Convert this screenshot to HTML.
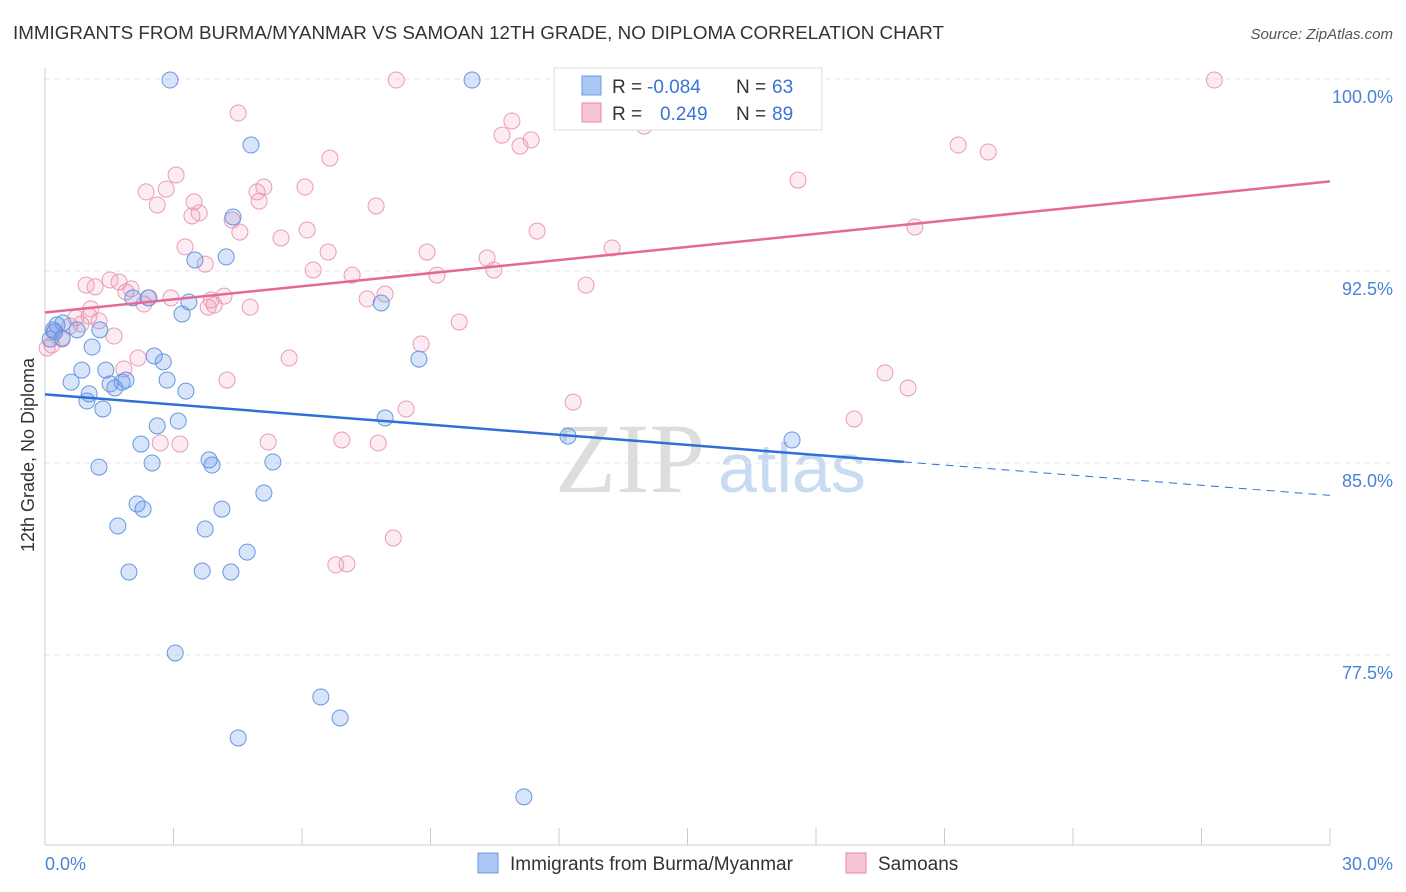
<!DOCTYPE html>
<html><head><meta charset="utf-8"><style>
body{margin:0;background:#fff;font-family:"Liberation Sans",sans-serif;}
svg{display:block}
</style></head><body>
<svg id="chart" width="1406" height="892">
<text x="13" y="39" font-size="18" fill="#333" textLength="931" lengthAdjust="spacingAndGlyphs">IMMIGRANTS FROM BURMA/MYANMAR VS SAMOAN 12TH GRADE, NO DIPLOMA CORRELATION CHART</text>
<text x="1393" y="39" font-size="15" fill="#555" font-style="italic" text-anchor="end">Source: ZipAtlas.com</text>
<text x="34" y="455" font-size="18" fill="#333" text-anchor="middle" transform="rotate(-90 34 455)">12th Grade, No Diploma</text>
<text x="555" y="492" font-size="100" fill="#ddd" font-family="Liberation Serif">ZIP</text>
<text x="718" y="492" font-size="70" fill="#c9daf3">atlas</text>
<g id="grid"></g><g id="pts"></g><g id="lines"></g>
<g>
<rect x="554" y="68" width="268" height="62" fill="#fff" stroke="#ddd"/>
<rect x="582" y="76" width="19" height="19" fill="#a9c7f2" stroke="#6a9be0"/>
<text y="93" font-size="19" fill="#333"><tspan x="612">R =</tspan><tspan x="647" fill="#3a74d6">-0.084</tspan><tspan x="736">N =</tspan><tspan x="772" fill="#3a74d6">63</tspan></text>
<rect x="582" y="103" width="19" height="19" fill="#f7c4d4" stroke="#e88aa8"/>
<text y="120" font-size="19" fill="#333"><tspan x="612">R =</tspan><tspan x="660" fill="#3a74d6">0.249</tspan><tspan x="736">N =</tspan><tspan x="772" fill="#3a74d6">89</tspan></text>
</g>
<g>
<rect x="478" y="853" width="20" height="20" fill="#a9c7f2" stroke="#6a9be0"/>
<text x="510" y="870" font-size="19" fill="#333">Immigrants from Burma/Myanmar</text>
<rect x="846" y="853" width="20" height="20" fill="#f7c4d4" stroke="#e88aa8"/>
<text x="878" y="870" font-size="19" fill="#333">Samoans</text>
</g>
</svg>
<script>
const yTicks=[100,92.5,85,77.5];
const xTickLabels=["0.0%","30.0%"];
const burmaX=[2.92,9.97,4.81,4.39,4.23,3.50,3.36,3.20,7.85,1.10,2.05,2.41,0.12,0.28,0.42,0.75,0.23,0.61,0.86,0.98,1.03,1.35,1.52,1.42,1.63,1.80,1.89,2.55,2.76,2.85,3.29,3.11,2.24,2.62,2.50,1.26,3.83,3.90,5.32,8.73,7.94,12.21,17.44,2.15,2.29,5.11,4.13,1.70,3.74,4.72,1.96,3.67,4.34,3.04,6.44,6.89,4.51,11.18,0.40,0.19,1.28];
const burmaY=[99.96,99.96,97.42,94.61,93.05,92.93,91.29,90.82,91.25,89.53,91.45,91.45,89.84,90.39,90.47,90.20,90.12,88.16,88.63,87.42,87.70,87.11,88.09,88.63,87.93,88.16,88.24,89.18,88.95,88.24,87.81,86.64,85.74,86.45,85.00,84.84,85.12,84.92,85.04,89.06,86.76,86.05,85.90,83.40,83.20,83.83,83.20,82.54,82.42,81.52,80.74,80.78,80.74,77.58,75.86,75.04,74.26,71.96,89.88,90.20,90.20];
const samX=[8.20,14.94,27.30,4.51,10.90,10.67,11.09,11.35,13.99,21.32,22.02,6.65,3.06,2.36,2.83,2.62,5.11,4.95,5.00,6.07,7.73,3.48,3.43,3.60,4.37,4.55,3.27,5.51,6.12,6.61,6.26,3.74,7.17,8.92,9.15,10.32,10.48,11.49,13.24,12.63,17.58,20.31,1.52,0.96,1.17,1.73,1.89,2.01,2.43,2.94,2.31,3.88,4.18,3.95,3.81,4.79,7.52,7.94,9.67,8.78,1.26,0.72,0.84,0.21,0.40,0.05,1.61,1.07,2.17,1.84,5.70,4.25,8.43,12.33,19.61,20.15,18.89,3.15,2.69,5.21,6.93,7.78,8.13,7.05,6.79,1.03,0.58,0.16];
const samY=[99.96,99.96,99.96,98.67,98.36,97.81,97.38,97.62,98.16,97.42,97.15,96.91,96.25,95.59,95.70,95.08,95.78,95.59,95.23,95.78,95.04,95.20,94.65,94.77,94.49,94.02,93.44,93.79,94.10,93.24,92.54,92.77,92.34,93.24,92.34,93.01,92.54,94.06,93.40,91.95,96.05,94.22,92.15,91.95,91.88,92.07,91.68,91.80,91.45,91.45,91.21,91.37,91.52,91.17,91.09,91.09,91.41,91.60,90.51,89.65,90.55,90.67,90.43,90.12,89.84,89.49,89.96,91.02,89.10,88.67,89.10,88.24,87.11,87.38,88.52,87.93,86.72,85.74,85.78,85.82,85.90,85.78,82.07,81.06,81.02,90.74,90.35,89.61];
const burmaTrend=[87.68,-0.1315]; // intercept, slope
const samTrend=[90.88,0.1707];
const burmaSolidEnd=20.05;
const X=v=>45+v/30*1285, Y=v=>79+(100-v)/7.5*192;
const NS="http://www.w3.org/2000/svg";
function mk(parent,tag,attrs){const e=document.createElementNS(NS,tag);for(const k in attrs)e.setAttribute(k,attrs[k]);parent.appendChild(e);return e;}
const g=document.getElementById('grid');
yTicks.forEach(t=>{
 const l=mk(g,'line',{x1:45,x2:1393,y1:Y(t),y2:Y(t),stroke:'#e4e4e4','stroke-dasharray':'5,5'});
 
 
 const tx=mk(g,'text',{x:1393,y:Y(t)+24,'font-size':18,fill:'#4a82d8','text-anchor':'end'});
 tx.textContent=t.toFixed(1)+'%';
 
 
});
mk(g,'line',{x1:45,x2:45,y1:68,y2:845,stroke:'#ccc'});
mk(g,'line',{x1:45,x2:1330,y1:845,y2:845,stroke:'#ccc'});
for(let i=0;i<=10;i++){mk(g,'line',{x1:X(i*3),x2:X(i*3),y1:828,y2:845,stroke:'#ccc'});}
xTickLabels.forEach((s,i)=>{const tx=mk(g,'text',{x:i?1393:45,y:870,'font-size':18,fill:'#4a82d8','text-anchor':i?'end':'start'});tx.textContent=s;
 
 });
const p=document.getElementById('pts');
samX.forEach((v,i)=>{const c=mk(p,'circle',{cx:X(v),cy:Y(samY[i]),r:8,fill:'rgba(240,150,180,0.18)',stroke:'#eb9bb5','stroke-width':1});
 
 });
burmaX.forEach((v,i)=>{const c=mk(p,'circle',{cx:X(v),cy:Y(burmaY[i]),r:8,fill:'rgba(100,149,237,0.25)',stroke:'#6698e0','stroke-width':1});
 
 });
const L=document.getElementById('lines');
const bf=x=>burmaTrend[0]+burmaTrend[1]*x, sf=x=>samTrend[0]+samTrend[1]*x;
let a=mk(L,'line',{x1:X(0),y1:Y(bf(0)),x2:X(burmaSolidEnd),y2:Y(bf(burmaSolidEnd)),stroke:'#2f6fd6','stroke-width':2.5});


a=mk(L,'line',{x1:X(burmaSolidEnd),y1:Y(bf(burmaSolidEnd)),x2:X(30),y2:Y(bf(30)),stroke:'#2f6fd6','stroke-width':1,'stroke-dasharray':'8,6'});


a=mk(L,'line',{x1:X(0),y1:Y(sf(0)),x2:X(30),y2:Y(sf(30)),stroke:'#e36a97','stroke-width':2.5});


</script>
</body></html>
